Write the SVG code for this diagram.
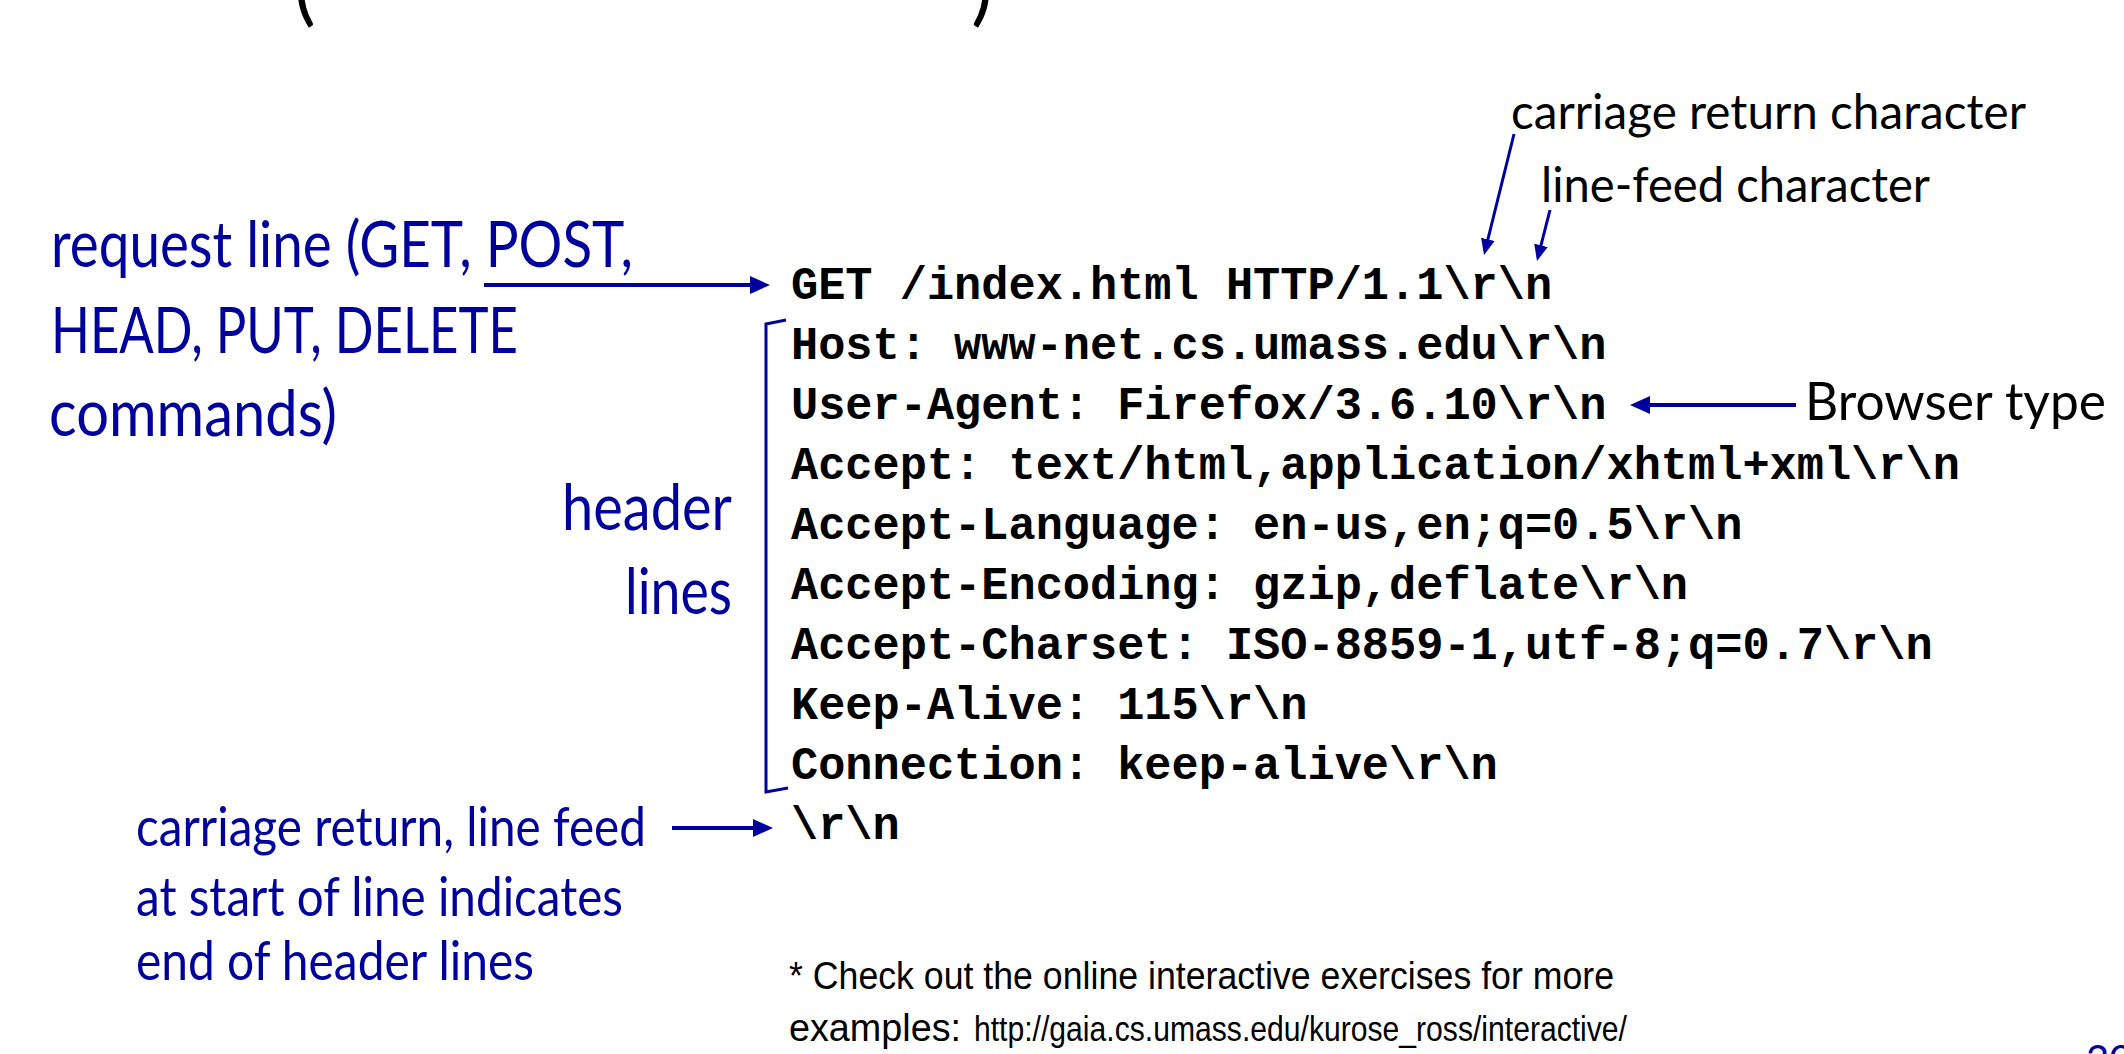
<svg xmlns="http://www.w3.org/2000/svg" width="2124" height="1054" viewBox="0 0 2124 1054">
<style>
  .bl { font-family: Lato, "Open Sans", sans-serif; fill: #00009C; }
  .bk { font-family: Lato, "Open Sans", sans-serif; fill: #000000; }
  .code { font-family: "Liberation Mono", "Courier New", monospace; font-weight: bold; font-size: 45.3px; fill: #000000; }
  .foot { font-family: "Liberation Sans", Arial, sans-serif; fill: #000000; }
  .arr { fill: none; stroke: #00009C; stroke-width: 4; }
  .thin { fill: none; stroke: #00009C; stroke-width: 3; }
</style>
<defs>
  <marker id="ahead" markerUnits="userSpaceOnUse" markerWidth="20" markerHeight="18" viewBox="0 0 20 18" refX="15" refY="9" orient="auto">
    <path d="M0,0 L20,9 L0,18 z" fill="#00009C"/>
  </marker>
  <marker id="asmall" markerUnits="userSpaceOnUse" markerWidth="16" markerHeight="14" viewBox="0 0 16 14" refX="12" refY="7" orient="auto">
    <path d="M0,0 L16,7 L0,14 z" fill="#00009C"/>
  </marker>
</defs>
<rect width="2124" height="1054" fill="#ffffff"/>

<g id="title-fragment">
  <text class="bk" x="305" y="16" font-size="80" text-anchor="middle">(</text>
  <text class="bk" x="982" y="16" font-size="80" text-anchor="middle">)</text>
</g>

<g id="request-line-label">
  <text class="bl" font-size="63" x="51" y="267" textLength="582" lengthAdjust="spacingAndGlyphs">request line (GET, POST,</text>
  <text class="bl" font-size="63" x="51" y="353" textLength="467" lengthAdjust="spacingAndGlyphs">HEAD, PUT, DELETE</text>
  <text class="bl" font-size="63" x="49" y="436" textLength="288" lengthAdjust="spacingAndGlyphs">commands)</text>
</g>

<g id="header-lines-label">
  <text class="bl" font-size="63" x="562" y="530" textLength="170" lengthAdjust="spacingAndGlyphs">header</text>
  <text class="bl" font-size="63" x="625" y="614" textLength="107" lengthAdjust="spacingAndGlyphs">lines</text>
</g>

<g id="crlf-label">
  <text class="bl" font-size="55" x="136" y="846" textLength="510" lengthAdjust="spacingAndGlyphs">carriage return, line feed</text>
  <text class="bl" font-size="55" x="136" y="916" textLength="487" lengthAdjust="spacingAndGlyphs">at start of line indicates</text>
  <text class="bl" font-size="55" x="136" y="980" textLength="398" lengthAdjust="spacingAndGlyphs">end of header lines</text>
</g>

<g id="cr-label">
  <text class="bk" font-size="48" x="1511" y="129" textLength="515" lengthAdjust="spacingAndGlyphs">carriage return character</text>
</g>
<g id="lf-label">
  <text class="bk" font-size="48" x="1541" y="202" textLength="389" lengthAdjust="spacingAndGlyphs">line-feed character</text>
</g>
<g id="browser-label">
  <text class="bk" font-size="53" x="1805" y="420" textLength="301" lengthAdjust="spacingAndGlyphs">Browser type</text>
</g>

<g id="http-request">
  <text class="code" x="791" y="299">GET /index.html HTTP/1.1\r\n</text>
  <text class="code" x="791" y="359">Host: www-net.cs.umass.edu\r\n</text>
  <text class="code" x="791" y="419">User-Agent: Firefox/3.6.10\r\n</text>
  <text class="code" x="791" y="479">Accept: text/html,application/xhtml+xml\r\n</text>
  <text class="code" x="791" y="539">Accept-Language: en-us,en;q=0.5\r\n</text>
  <text class="code" x="791" y="599">Accept-Encoding: gzip,deflate\r\n</text>
  <text class="code" x="791" y="659">Accept-Charset: ISO-8859-1,utf-8;q=0.7\r\n</text>
  <text class="code" x="791" y="719">Keep-Alive: 115\r\n</text>
  <text class="code" x="791" y="779">Connection: keep-alive\r\n</text>
  <text class="code" x="791" y="839">\r\n</text>
</g>

<g id="footnote">
  <text class="foot" font-size="38" x="789" y="989" textLength="825" lengthAdjust="spacingAndGlyphs">* Check out the online interactive exercises for more</text>
  <text class="foot" font-size="38" x="789" y="1041" textLength="172" lengthAdjust="spacingAndGlyphs">examples:</text>
  <text class="foot" font-size="35" x="974" y="1041" textLength="653" lengthAdjust="spacingAndGlyphs">http://gaia.cs.umass.edu/kurose_ross/interactive/</text>
</g>

<g id="slide-number">
  <text class="bl" font-size="40" x="2086" y="1074">20</text>
</g>

<g id="connectors">
  <path class="arr" d="M484,285 L765,285" marker-end="url(#ahead)"/>
  <path class="arr" d="M672,828 L768,828" marker-end="url(#ahead)"/>
  <path class="arr" d="M1796,405 L1635,405" marker-end="url(#ahead)"/>
  <path class="thin" d="M1514,134 L1485,251" marker-end="url(#asmall)"/>
  <path class="thin" d="M1550,210 L1538,257" marker-end="url(#asmall)"/>
  <path class="thin" d="M786,320 L766,324 L766,792 L788,788"/>
</g>
</svg>
